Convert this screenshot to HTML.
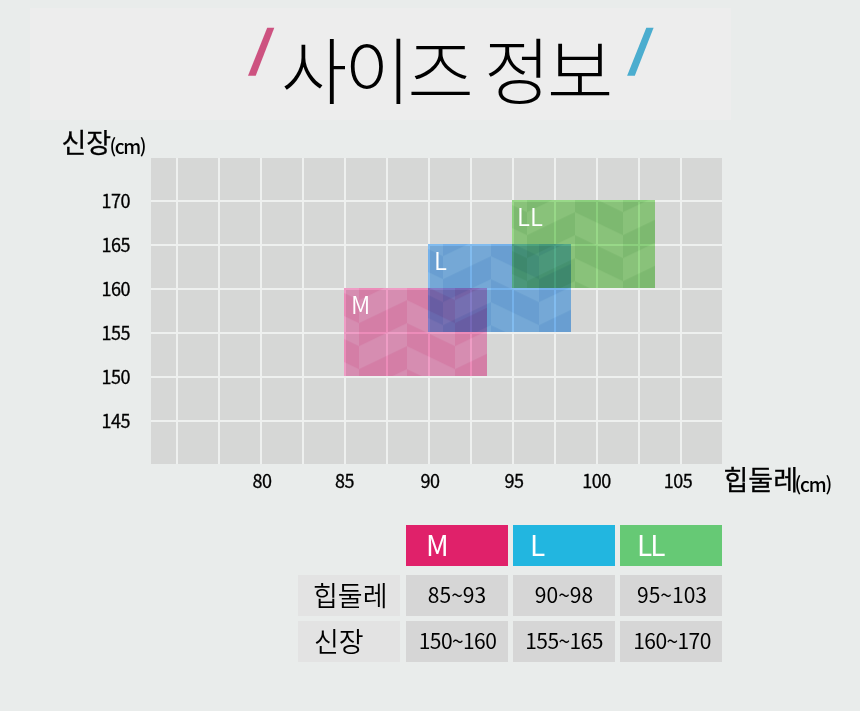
<!DOCTYPE html>
<html lang="ko">
<head>
<meta charset="utf-8">
<title>사이즈 정보</title>
<style>
html,body{margin:0;padding:0;}
body{width:860px;height:711px;overflow:hidden;background:#e9eceb;position:relative;
  font-family:"Noto Sans CJK KR","Liberation Sans","Noto Sans CJK JP",sans-serif;color:#000;}
.a{position:absolute;line-height:1;white-space:nowrap;}
#titlebox{position:absolute;left:30px;top:8px;width:701px;height:112px;background:#ededed;}
#title{left:281px;top:30.5px;font-size:72px;font-weight:300;letter-spacing:-3px;word-spacing:-4px;color:#000;}
#chart{position:absolute;left:0;top:0;}
.yl{font-size:18px;left:80px;width:50px;text-align:right;font-weight:400;letter-spacing:-0.5px;-webkit-text-stroke:0.3px #000;}
.xl{font-size:18px;top:471px;width:60px;text-align:center;font-weight:400;letter-spacing:-0.5px;-webkit-text-stroke:0.3px #000;}
.bl{font-size:24px;font-weight:350;color:#fff;}
.cell{position:absolute;width:102px;height:41px;background:#d6d6d6;font-size:21px;line-height:39px;text-align:center;color:#000;}
.hd{position:absolute;width:102px;height:41px;color:#fff;font-size:28px;line-height:39px;}
.lb{position:absolute;width:102px;height:41px;background:#e3e3e3;font-size:27px;font-weight:350;line-height:39px;color:#000;}
</style>
</head>
<body>
<div id="titlebox"></div>
<svg width="860" height="120" style="position:absolute;left:0;top:0">
  <polygon points="267.2,27.8 274.3,27.8 255.7,75.8 248,75.8" fill="#cd5280"/>
  <polygon points="646.3,27.8 653.6,27.8 634.8,75.8 627.1,75.8" fill="#4badcf"/>
</svg>
<div class="a" id="title">사이즈 정보</div>

<div class="a" style="left:61.5px;top:128px;font-size:27px;font-weight:400;-webkit-text-stroke:0.3px #000;">신장</div>
<div class="a" style="left:109.5px;top:136px;font-size:19px;font-weight:500;letter-spacing:-1.4px;">(cm)</div>

<svg id="chart" width="860" height="711">
  <defs>
    <pattern id="pM" patternUnits="userSpaceOnUse" x="359" y="300.2" width="96" height="46">
      <rect width="96" height="46" fill="#fd95c6"/>
      <g fill="#ffa7d3"><polygon points="48,0 96,23 96,46 48,23"/><polygon points="0,0 48,-23 48,0 0,23"/><polygon points="0,46 48,23 48,46 0,69"/></g>
    </pattern>
    <pattern id="pL" patternUnits="userSpaceOnUse" x="443" y="256.2" width="96" height="46">
      <rect width="96" height="46" fill="#7dbcfa"/>
      <g fill="#8bc8ff"><polygon points="48,0 96,23 96,46 48,23"/><polygon points="0,0 48,-23 48,0 0,23"/><polygon points="0,46 48,23 48,46 0,69"/></g>
    </pattern>
    <pattern id="pLL" patternUnits="userSpaceOnUse" x="527" y="212.2" width="96" height="46">
      <rect width="96" height="46" fill="#95dc85"/>
      <g fill="#a3e691"><polygon points="48,0 96,23 96,46 48,23"/><polygon points="0,0 48,-23 48,0 0,23"/><polygon points="0,46 48,23 48,46 0,69"/></g>
    </pattern>
  </defs>
  <rect x="151" y="158" width="571" height="306" fill="#d6d7d6"/>
  <g fill="#eef0ef">
    <rect x="176" y="158" width="2" height="306"/>
    <rect x="218" y="158" width="2" height="306"/>
    <rect x="260" y="158" width="2" height="306"/>
    <rect x="302" y="158" width="2" height="306"/>
    <rect x="344" y="158" width="2" height="306"/>
    <rect x="386" y="158" width="2" height="306"/>
    <rect x="428" y="158" width="2" height="306"/>
    <rect x="470" y="158" width="2" height="306"/>
    <rect x="512" y="158" width="2" height="306"/>
    <rect x="554" y="158" width="2" height="306"/>
    <rect x="596" y="158" width="2" height="306"/>
    <rect x="638" y="158" width="2" height="306"/>
    <rect x="680" y="158" width="2" height="306"/>
    <rect x="151" y="200" width="571" height="2"/>
    <rect x="151" y="244" width="571" height="2"/>
    <rect x="151" y="288" width="571" height="2"/>
    <rect x="151" y="332" width="571" height="2"/>
    <rect x="151" y="376" width="571" height="2"/>
    <rect x="151" y="420" width="571" height="2"/>
  </g>
  <rect x="344" y="288" width="143" height="88" fill="url(#pM)" style="mix-blend-mode:multiply"/>
  <rect x="428" y="244" width="143" height="88" fill="url(#pL)" style="mix-blend-mode:multiply"/>
  <rect x="512" y="200" width="143" height="88" fill="url(#pLL)" style="mix-blend-mode:multiply"/>
</svg>

<div class="a yl" style="top:191px">170</div>
<div class="a yl" style="top:235px">165</div>
<div class="a yl" style="top:279px">160</div>
<div class="a yl" style="top:323px">155</div>
<div class="a yl" style="top:367px">150</div>
<div class="a yl" style="top:411px">145</div>

<div class="a xl" style="left:231.9px">80</div>
<div class="a xl" style="left:314.4px">85</div>
<div class="a xl" style="left:399.9px">90</div>
<div class="a xl" style="left:483.9px">95</div>
<div class="a xl" style="left:566.6px">100</div>
<div class="a xl" style="left:648.1px">105</div>

<div class="a" style="left:723.5px;top:465px;font-size:27px;font-weight:400;-webkit-text-stroke:0.3px #000;">힙둘레</div>
<div class="a" style="left:794.5px;top:473.5px;font-size:19px;font-weight:500;letter-spacing:-1.2px;">(cm)</div>

<div class="a bl" style="left:351px;top:292px">M</div>
<div class="a bl" style="left:434px;top:248px">L</div>
<div class="a bl" style="left:517px;top:204px">LL</div>

<div class="hd" style="left:406px;top:525px;background:#e0216a;"><span style="position:absolute;left:20px;top:0">M</span></div>
<div class="hd" style="left:513px;top:525px;background:#22b6e0;"><span style="position:absolute;left:17px;top:0">L</span></div>
<div class="hd" style="left:620px;top:525px;background:#66c975;"><span style="position:absolute;left:17px;top:0;letter-spacing:-2px">LL</span></div>

<div style="position:absolute;left:620px;top:575px;width:102px;height:41px;background:#d6d6d6"></div>
<div style="position:absolute;left:406px;top:621px;width:102px;height:41px;background:#d6d6d6"></div>
<div style="position:absolute;left:513px;top:621px;width:102px;height:41px;background:#d6d6d6"></div>
<div style="position:absolute;left:620px;top:621px;width:102px;height:41px;background:#d6d6d6"></div>
<div class="lb" style="left:298px;top:575px;"><span style="position:absolute;left:15px;top:0">힙둘레</span></div>
<div class="cell" style="left:406px;top:575px;">85~93</div>
<div class="cell" style="left:513px;top:575px;">90~98</div>
<div class="cell" style="left:621px;top:575px;background:transparent;">95~103</div>

<div class="lb" style="left:298px;top:621px;"><span style="position:absolute;left:16px;top:0">신장</span></div>
<div class="cell" style="left:406.5px;top:621px;letter-spacing:-0.6px;background:transparent;">150~160</div>
<div class="cell" style="left:513px;top:621px;letter-spacing:-0.6px;background:transparent;">155~165</div>
<div class="cell" style="left:621px;top:621px;letter-spacing:-0.6px;background:transparent;">160~170</div>
</body>
</html>
